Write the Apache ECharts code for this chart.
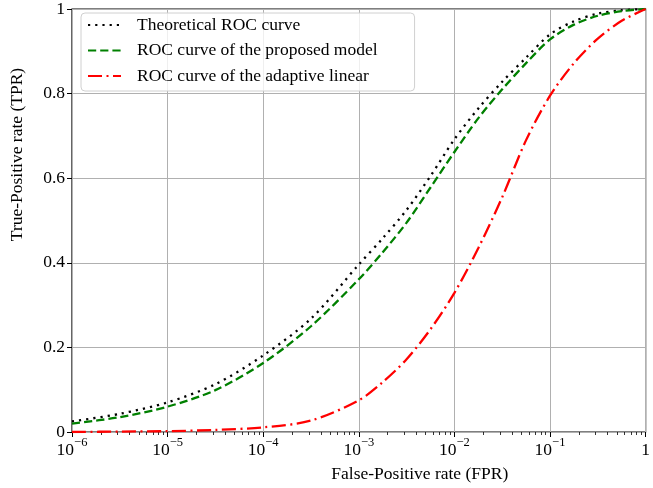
<!DOCTYPE html>
<html>
<head>
<meta charset="utf-8">
<script src="https://cdn.jsdelivr.net/npm/echarts@6/dist/echarts.min.js"></script>
<style>
  html, body { margin: 0; padding: 0; background: #fff; }
  #chart { width: 653px; height: 488px; }
</style>
</head>
<body>
<div id="chart"></div>
<script>
// false-positive rate (x), read at half / quarter decades
const fpr = [1e-6, 3.16e-6, 1e-5, 3.16e-5, 1e-4, 3.16e-4, 1e-3, 1.78e-3, 3.16e-3, 5.62e-3,
  1e-2, 1.78e-2, 3.16e-2, 5.62e-2, 0.1, 0.178, 0.316, 0.562, 1]
// true-positive rate of each curve
const tprTheory = [0.025, 0.043, 0.070, 0.113, 0.181, 0.268, 0.396, 0.458, 0.525, 0.605,
  0.692, 0.765, 0.828, 0.885, 0.940, 0.971, 0.989, 0.997, 1]
const tprProposed = [0.020, 0.035, 0.060, 0.099, 0.163, 0.250, 0.361, 0.425, 0.495, 0.578,
  0.662, 0.742, 0.810, 0.872, 0.928, 0.963, 0.984, 0.995, 1]
const tprAdaptive = [0.0, 0.001, 0.002, 0.005, 0.011, 0.027, 0.075, 0.118, 0.172, 0.243,
  0.329, 0.435, 0.555, 0.690, 0.795, 0.872, 0.930, 0.972, 1]

const names = ['Theoretical ROC curve', 'ROC curve of the proposed model', 'ROC curve of the adaptive linear']
const xTicks = [1e-6, 1e-5, 1e-4, 1e-3, 1e-2, 1e-1, 1]

// minor ticks 2..9 of every decade
const xMinor = []
for (let d = -6; d < 0; d++) {
  for (let m = 2; m <= 9; m++) xMinor.push(m * Math.pow(10, d))
}

const font = 'Liberation Serif'
const fs = 17.5

const chart = echarts.init(document.getElementById('chart'))

const pairs = arr => fpr.map((x, i) => [x, arr[i]])

const option = {
  animation: false,
  grid: {
    left: 71, right: 5, top: 7, bottom: 52,
    show: true,
    borderColor: '#000',
    borderWidth: 1.2
  },
  legend: {
    left: 81,
    top: 13,
    orient: 'vertical',
    itemWidth: 33,
    itemHeight: 14,
    itemGap: 7.5,
    padding: [3, 37, 6, 6],
    backgroundColor: 'rgba(255,255,255,0.8)',
    borderColor: '#d0d0d0',
    borderWidth: 1,
    borderRadius: 4,
    itemStyle: { opacity: 0 },
    textStyle: {
      fontFamily: font,
      fontSize: fs,
      lineHeight: 17.5,
      color: '#000',
      padding: [0, 0, 0, 11]
    },
    data: names
  },
  xAxis: [
    {
      type: 'log',
      logBase: 10,
      min: 1e-6,
      max: 1,
      name: 'False-Positive rate (FPR)',
      nameLocation: 'middle',
      nameGap: 33,
      nameTextStyle: {
        fontFamily: font,
        fontSize: fs,
        color: '#000',
        padding: [0, 0, 0, 122]
      },
      axisLine: { show: false },
      axisTick: { customValues: xTicks, length: 5, lineStyle: { color: '#000', width: 1 } },
      splitLine: { show: true, lineStyle: { color: '#b0b0b0', width: 1 } },
      axisLabel: {
        customValues: xTicks,
        margin: 4,
        color: '#000',
        formatter: v => {
          const e = Math.round(Math.log10(v))
          return e === 0 ? '{b|1}' : '{b|10}{s|\u2212' + (-e) + '}'
        },
        rich: {
          b: { fontFamily: font, fontSize: fs, lineHeight: 23, verticalAlign: 'bottom', color: '#000' },
          s: { fontFamily: font, fontSize: 12.5, lineHeight: 12, verticalAlign: 'top', color: '#000' }
        }
      }
    },
    {
      type: 'log',
      logBase: 10,
      min: 1e-6,
      max: 1,
      position: 'bottom',
      axisLine: { show: false },
      axisLabel: { show: false },
      splitLine: { show: false },
      axisTick: { customValues: xMinor, length: 3, lineStyle: { color: '#000', width: 0.8 } }
    }
  ],
  yAxis: {
    type: 'value',
    min: 0,
    max: 1,
    interval: 0.2,
    name: 'True-Positive rate (TPR)',
    nameLocation: 'middle',
    nameGap: 46,
    nameTextStyle: {
      fontFamily: font,
      fontSize: fs,
      color: '#000',
      padding: [0, 0, 0, 132]
    },
    axisLine: { show: false },
    axisTick: { show: true, length: 5, lineStyle: { color: '#000', width: 1 } },
    splitLine: { show: true, lineStyle: { color: '#b0b0b0', width: 1 } },
    axisLabel: {
      margin: 7,
      fontFamily: font,
      fontSize: fs,
      color: '#000',
      formatter: v => String(v)
    }
  },
  series: [
    {
      name: names[0],
      type: 'line',
      data: pairs(tprTheory),
      symbol: 'none',
      smooth: 0.3,
      z: 3,
      lineStyle: { color: '#000', width: 2.3, type: [2.2, 5] },
      itemStyle: { color: '#000' }
    },
    {
      name: names[1],
      type: 'line',
      data: pairs(tprProposed),
      symbol: 'none',
      smooth: 0.3,
      z: 4,
      lineStyle: { color: '#008000', width: 2.3, type: [8.2, 4] },
      itemStyle: { color: '#008000' }
    },
    {
      name: names[2],
      type: 'line',
      data: pairs(tprAdaptive),
      symbol: 'none',
      smooth: 0.3,
      z: 5,
      lineStyle: { color: '#ff0000', width: 2.3, type: [14, 4.5, 2, 4.5] },
      itemStyle: { color: '#ff0000' }
    }
  ]
}

chart.setOption(option)
</script>
</body>
</html>
